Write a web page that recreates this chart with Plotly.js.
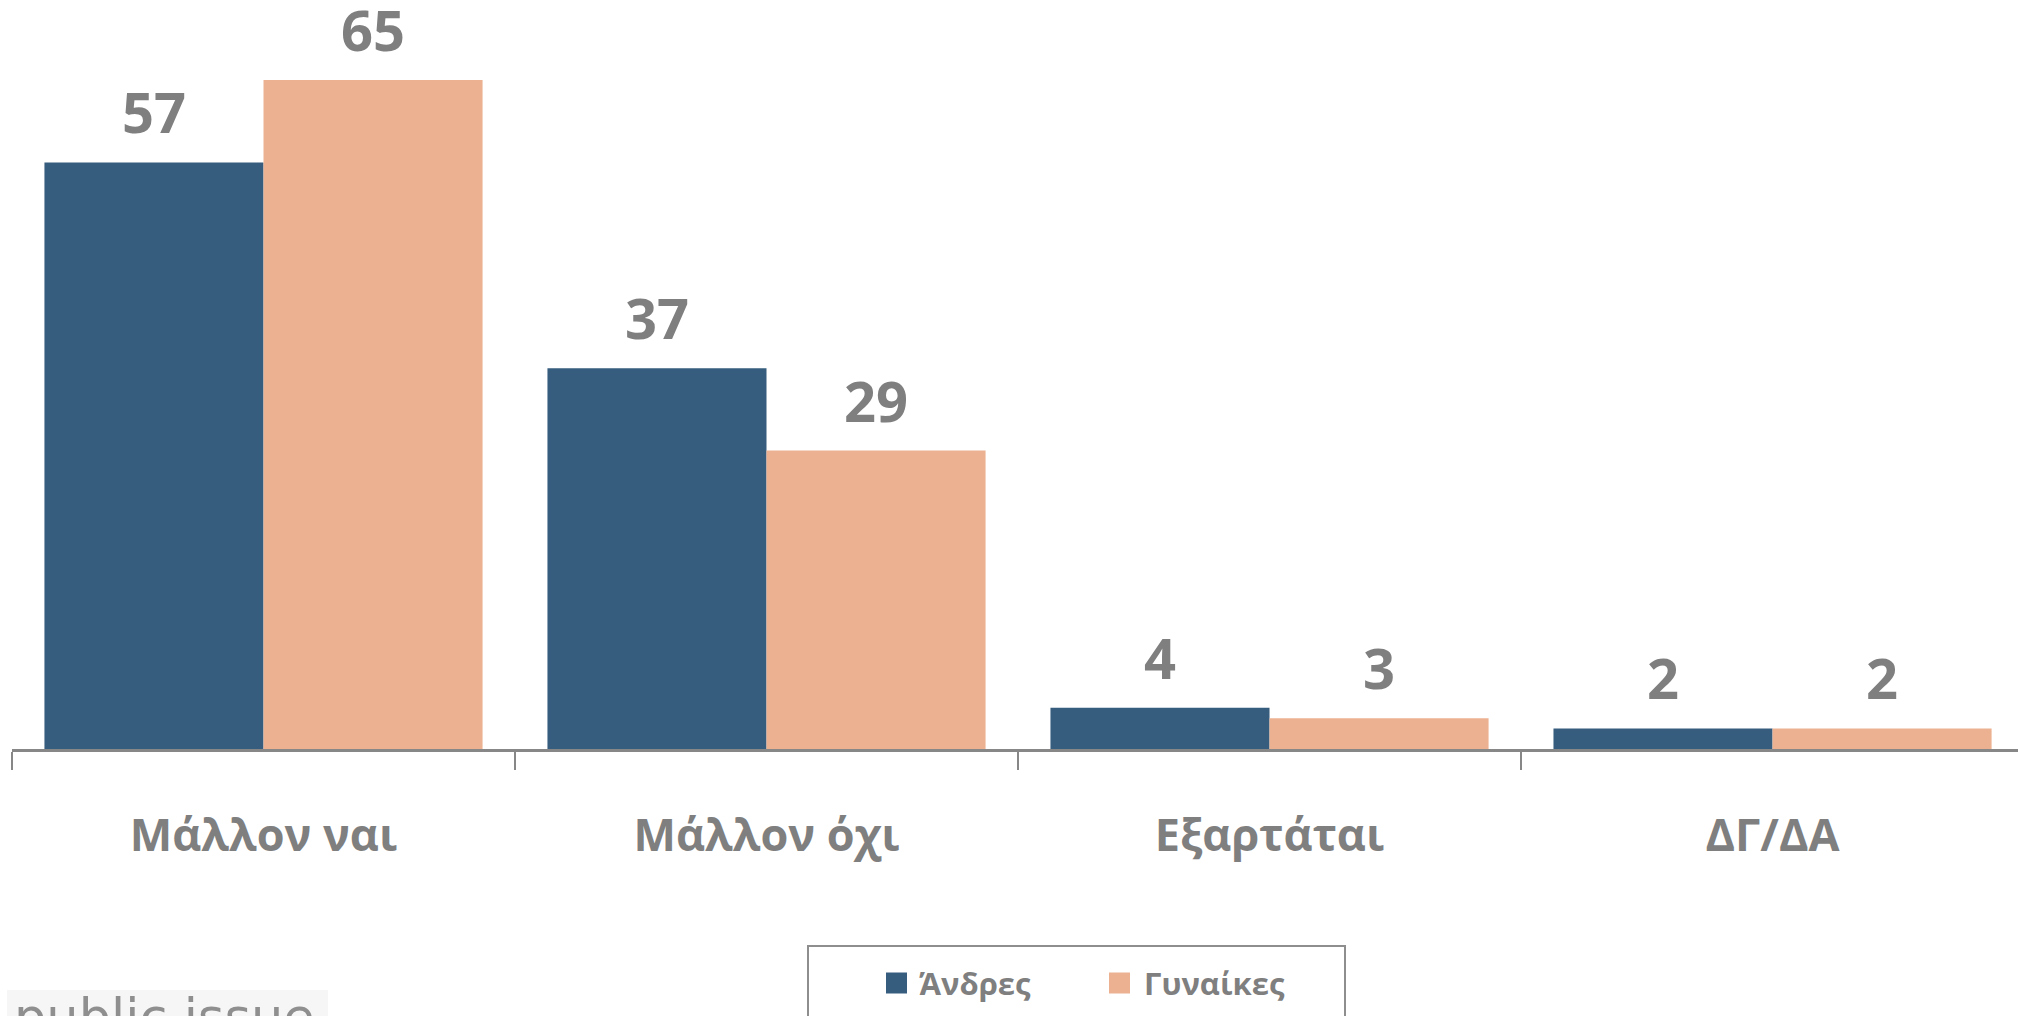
<!DOCTYPE html>
<html>
<head>
<meta charset="utf-8">
<script src="https://cdn.plot.ly/plotly-3.0.1.min.js"></script>
<style>html,body{margin:0;padding:0;background:#fff;overflow:hidden}#chart{width:2018px;height:1016px}</style>
</head>
<body>
<div id="chart"></div>
<script>
// ---- data ----
const categories = ["Μάλλον ναι", "Μάλλον όχι", "Εξαρτάται", "ΔΓ/ΔΑ"];
const seriesNames = ["Άνδρες", "Γυναίκες"];
const men = [57, 37, 4, 2];
const women = [65, 29, 3, 2];
const seriesColors = ["#365d7e", "#ecb190"];
const footerText = "public issue";

// ---- layout constants ----
const W = 2018, H = 1016;
const mL = 12, mR = 0, mT = 8, mB = 267;
const plotW = W - mL - mR, plotH = H - mT - mB;
const xRange = [-0.5, 3.488];
const bargap = 0.129;
const gray = "#7f7f7f";
const axisGray = "#878787";
const FONT = "Open Sans, Noto Sans, DejaVu Sans, sans-serif";

const catPx = plotW / (xRange[1] - xRange[0]);
const barPx = catPx * (1 - bargap) / 2;
const pxX = p => (p - mL) / plotW;
const pxY = p => (H - mB - p) / plotH;

const seriesValues = [men, women];
const traces = seriesValues.map((vals, j) => ({
  type: "bar",
  name: seriesNames[j],
  x: categories,
  y: vals,
  marker: {color: seriesColors[j], line: {width: 0}},
  hoverinfo: "none",
  showlegend: false
}));

const annotations = [];
seriesValues.forEach((vals, j) => {
  vals.forEach((v, i) => {
    annotations.push({
      x: categories[i], y: v, xref: "x", yref: "y",
      text: String(v), showarrow: false,
      xshift: (j === 0 ? -1 : 1) * barPx / 2,
      yanchor: "bottom", yshift: 11,
      font: {family: FONT, size: 56, color: gray, weight: 700}
    });
  });
});

// custom legend
const legendTexts = [{sq: 886, tx: 917}, {sq: 1109, tx: 1142}];
const legendY = 983;
const shapes = [{
  type: "rect", xref: "paper", yref: "paper",
  x0: pxX(808), x1: pxX(1345), y0: pxY(946), y1: pxY(1060),
  line: {color: "#8e8e8e", width: 2}, fillcolor: "rgba(0,0,0,0)"
}];
seriesNames.forEach((n, j) => {
  shapes.push({
    type: "rect", xref: "paper", yref: "paper",
    x0: pxX(legendTexts[j].sq), x1: pxX(legendTexts[j].sq + 21),
    y0: pxY(legendY - 10.5), y1: pxY(legendY + 10.5),
    line: {width: 0}, fillcolor: seriesColors[j]
  });
  annotations.push({
    xref: "paper", yref: "paper", x: pxX(legendTexts[j].tx), y: pxY(legendY),
    xanchor: "left", yanchor: "middle", showarrow: false, text: n,
    font: {family: FONT, size: 31, color: gray, weight: 700}
  });
});

// footer logo text
shapes.push({
  type: "rect", xref: "paper", yref: "paper",
  x0: pxX(7), x1: pxX(328), y0: pxY(990), y1: pxY(1030),
  line: {width: 0}, fillcolor: "#f6f6f6", layer: "below"
});
annotations.push({
  xref: "paper", yref: "paper", x: pxX(12), y: pxY(986),
  xanchor: "left", yanchor: "top", showarrow: false, text: footerText,
  font: {family: "DejaVu Sans, sans-serif", size: 51, color: "#8f8f8f"}
});

const layout = {
  width: W, height: H,
  margin: {l: mL, r: mR, t: mT, b: mB, autoexpand: false},
  paper_bgcolor: "#fff", plot_bgcolor: "#fff",
  barmode: "group", bargap: bargap, bargroupgap: 0,
  showlegend: false,
  xaxis: {
    type: "category", range: xRange, fixedrange: true,
    showline: true, linecolor: axisGray, linewidth: 3,
    ticks: "outside", tickson: "boundaries", ticklen: 18, tickwidth: 2, tickcolor: axisGray,
    ticklabelstandoff: 45,
    tickfont: {family: FONT, size: 45, color: gray, weight: 700},
    showgrid: false, zeroline: false
  },
  yaxis: {
    range: [0, 72], visible: false, showgrid: false, zeroline: false, fixedrange: true
  },
  annotations: annotations,
  shapes: shapes
};

Plotly.newPlot("chart", traces, layout, {displayModeBar: false, staticPlot: true});
</script>
</body>
</html>
